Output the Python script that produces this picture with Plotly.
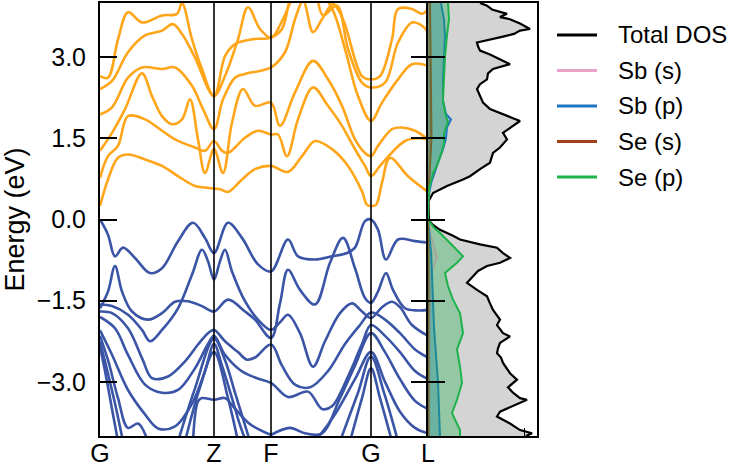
import plotly.graph_objects as go

# ---------------- high-symmetry path ----------------
hs_k = [0, 114, 171, 271, 328]
hs_labels = ["G", "Z", "F", "G", "L"]
y_ticks = [-3.0, -1.5, 0.0, 1.5, 3.0]

# ---------------- conduction bands (k, E in eV) ----------------
c1 = [(0, 0.25), (8, 0.74), (18, 1.14), (28, 1.20), (45, 1.11), (62, 0.99), (78, 0.80), (95, 0.62),
      (105, 0.59), (114, 0.57), (120, 0.56), (128, 0.51), (142, 0.74), (155, 0.93), (171, 0.99),
      (188, 0.88), (202, 1.17), (215, 1.45), (232, 1.30), (248, 0.99), (262, 0.52), (267, 0.27),
      (271, 0.25), (276, 0.27), (282, 0.68), (290, 1.14), (308, 0.80), (328, 0.51)]
c2 = [(0, 0.77), (8, 1.17), (18, 1.36), (28, 1.91), (45, 1.85), (62, 1.64), (75, 1.48), (95, 1.33),
      (105, 1.27), (114, 1.45), (122, 1.27), (128, 1.23), (145, 1.51), (158, 1.64), (171, 1.57),
      (178, 1.57), (187, 1.17), (198, 1.85), (213, 2.44), (228, 2.10), (242, 1.73), (254, 1.33),
      (265, 0.99), (271, 0.80), (280, 0.99), (290, 1.20), (305, 1.45), (318, 1.50), (328, 1.48)]
c3 = [(0, 1.27), (12, 1.60), (25, 2.04), (42, 2.70), (52, 2.28), (62, 1.91), (72, 1.76), (82, 1.85),
      (90, 2.22), (98, 1.48), (105, 0.86), (114, 1.30), (123, 0.86), (132, 1.79), (143, 2.41),
      (155, 2.10), (171, 2.16), (180, 1.73), (195, 2.35), (213, 2.93), (228, 2.59), (242, 2.10),
      (255, 1.48), (265, 1.23), (271, 1.17), (278, 1.36), (292, 1.67), (302, 1.70), (315, 1.64),
      (328, 1.48)]
c4 = [(0, 1.94), (12, 2.07), (28, 2.62), (42, 2.81), (62, 2.78), (75, 2.81), (92, 2.47), (103, 2.04),
      (114, 1.67), (123, 2.22), (135, 2.62), (145, 2.69), (171, 2.81), (185, 3.09), (195, 3.70),
      (203, 4.07), (215, 4.30), (232, 3.90), (245, 3.15), (258, 2.28), (271, 1.82), (282, 2.16),
      (298, 2.59), (312, 2.87), (328, 2.84)]
c5 = [(0, 2.41), (12, 2.56), (28, 3.09), (45, 3.40), (62, 3.49), (73, 3.61), (83, 3.40), (95, 2.99),
      (114, 2.28), (125, 3.02), (135, 3.24), (152, 3.33), (171, 3.36), (182, 3.52), (190, 4.07),
      (200, 4.50), (215, 4.20), (223, 3.77), (237, 3.95), (248, 3.15), (262, 2.53), (271, 2.44),
      (285, 2.53), (298, 3.27), (312, 3.64), (322, 3.58), (328, 3.46)]
c6 = [(0, 2.65), (8, 2.62), (18, 3.33), (28, 3.83), (42, 3.64), (62, 3.77), (77, 3.80), (82, 4.00),
      (92, 3.33), (102, 2.78), (114, 2.28), (125, 2.65), (138, 3.33), (148, 3.92), (160, 3.52),
      (171, 3.36), (183, 3.70), (193, 4.07), (202, 4.10), (213, 3.46), (222, 3.70), (233, 3.98),
      (243, 3.70), (262, 2.65), (271, 2.59), (280, 2.65), (292, 3.33), (298, 3.89), (312, 3.89),
      (322, 3.80), (328, 3.89)]

# ---------------- valence bands (k, E in eV) ----------------
v1 = [(0, 0.0), (8, -0.28), (15, -0.68), (23, -0.52), (35, -0.71), (50, -0.99), (62, -0.90),
      (78, -0.40), (93, -0.06), (105, -0.34), (114, -0.62), (128, -0.06), (142, -0.34), (158, -0.83),
      (171, -0.96), (188, -0.37), (198, -0.68), (215, -0.74), (232, -0.68), (247, -0.62), (255, -0.52),
      (265, -0.03), (271, 0.0), (278, -0.19), (286, -0.74), (298, -0.37), (315, -0.40), (328, -0.43)]
v2 = [(0, -1.64), (8, -1.33), (15, -0.86), (22, -1.33), (32, -1.70), (48, -1.85), (62, -1.73),
      (75, -1.52), (88, -1.51), (102, -1.60), (114, -1.70), (128, -1.48), (145, -1.70), (155, -1.85),
      (171, -2.19), (180, -1.55), (188, -0.93), (200, -1.30), (215, -1.57), (230, -0.80), (243, -0.34),
      (255, -0.90), (265, -1.45), (271, -1.54), (278, -1.33), (286, -0.99), (293, -1.30), (305, -1.64),
      (318, -1.68), (328, -1.67)]
v3 = [(0, -1.57), (12, -1.60), (28, -1.76), (42, -2.04), (50, -2.25), (62, -2.04), (78, -1.64),
      (92, -1.02), (102, -0.56), (108, -0.77), (114, -1.11), (120, -0.77), (125, -0.56), (132, -0.96),
      (145, -1.51), (158, -1.85), (171, -2.04), (180, -1.90), (188, -1.76), (200, -2.10), (213, -2.72),
      (225, -2.25), (240, -1.73), (252, -1.55), (262, -1.70), (271, -1.82), (282, -1.62), (292, -1.52),
      (300, -1.62), (312, -1.95), (328, -2.15)]
v4 = [(0, -1.70), (12, -1.73), (28, -2.01), (42, -2.56), (52, -2.93), (68, -2.90), (85, -2.62),
      (98, -2.31), (108, -2.10), (114, -2.04), (125, -2.25), (138, -2.45), (147, -2.59), (155, -2.55),
      (171, -2.31), (182, -2.70), (195, -3.05), (210, -3.10), (228, -2.80), (245, -2.30), (260, -1.95),
      (271, -1.72), (285, -1.85), (300, -2.10), (315, -2.40), (328, -2.55)]
v5 = [(0, -1.80), (15, -2.01), (28, -2.50), (45, -3.05), (62, -3.20), (78, -3.15), (95, -2.75),
      (108, -2.30), (114, -2.15), (125, -2.50), (140, -2.78), (155, -2.92), (171, -3.02), (188, -3.28),
      (208, -3.18), (222, -3.50), (232, -3.45), (248, -2.90), (262, -2.30), (271, -1.95), (285, -2.15),
      (300, -2.45), (315, -2.80), (328, -2.95)]
v6 = [(0, -2.05), (12, -2.50), (28, -3.15), (45, -3.60), (58, -3.86), (75, -3.82), (92, -3.40),
      (105, -2.80), (114, -2.30), (122, -2.70), (132, -3.30), (140, -3.80), (146, -4.10)]
v6b = [(171, -3.98), (190, -3.85), (205, -3.95), (222, -3.95), (240, -3.30), (255, -2.70), (271, -2.10),
       (285, -2.45), (300, -2.95), (315, -3.35), (328, -3.50)]
v7 = [(0, -2.15), (8, -2.60), (18, -3.30), (28, -3.85), (38, -3.77), (48, -4.10)]
v8 = [(0, -2.25), (6, -2.70), (15, -3.40), (23, -4.10)]
v9 = [(0, -2.35), (5, -2.80), (12, -3.50), (18, -4.10)]
v10 = [(78, -4.10), (95, -3.12), (114, -2.20), (125, -2.60), (135, -3.20), (145, -3.80), (150, -4.10)]
v11 = [(85, -4.10), (100, -3.10), (114, -2.45), (128, -3.30), (138, -4.10)]
v12 = [(93, -4.10), (98, -3.36), (102, -3.30), (114, -3.33), (125, -3.30), (133, -3.45), (150, -3.78),
       (171, -3.98)]
v13 = [(215, -4.10), (235, -3.60), (255, -2.95), (271, -2.45), (285, -3.00), (300, -3.55), (315, -3.85),
       (328, -3.95)]
v14 = [(240, -4.10), (258, -3.20), (271, -2.53), (284, -3.20), (298, -4.10)]
v15 = [(250, -4.10), (262, -3.30), (271, -2.75), (280, -3.30), (292, -4.10)]

conduction = [c1, c2, c3, c4, c5, c6]
valence = [v1, v2, v3, v4, v5, v6, v6b, v7, v8, v9, v10, v11, v12, v13, v14, v15]

# ---------------- DOS (E in eV, states) ----------------
dos_total = [(4.00, 5.2), (3.95, 5.9), (3.88, 6.4), (3.80, 7.9), (3.74, 7.2), (3.70, 8.2), (3.62, 9.2),
             (3.52, 10.2), (3.49, 9.2), (3.43, 8.6), (3.38, 7.5), (3.33, 6.4), (3.27, 4.9), (3.20, 5.0),
             (3.12, 5.2), (3.05, 6.2), (2.96, 7.2), (2.87, 8.2), (2.78, 6.5), (2.70, 6.0), (2.59, 5.9),
             (2.50, 5.2), (2.41, 4.9), (2.28, 5.2), (2.16, 5.5), (2.04, 6.2), (1.94, 7.5), (1.82, 9.2),
             (1.73, 8.5), (1.60, 7.5), (1.48, 7.9), (1.33, 7.2), (1.23, 6.5), (1.05, 6.2), (0.93, 5.2),
             (0.80, 4.2), (0.74, 3.5), (0.62, 1.9), (0.49, 0.5), (0.35, 0.1), (0.20, 0.02), (0.00, 0.0),
             (-0.10, 0.5), (-0.19, 1.2), (-0.30, 2.5), (-0.37, 3.2), (-0.46, 5.2), (-0.52, 6.9),
             (-0.62, 7.5), (-0.71, 8.2), (-0.80, 7.2), (-0.86, 5.9), (-0.95, 5.0), (-1.05, 4.5),
             (-1.17, 3.9), (-1.30, 4.9), (-1.42, 5.9), (-1.55, 6.2), (-1.67, 6.5), (-1.85, 7.2),
             (-1.95, 6.9), (-2.10, 7.5), (-2.16, 8.2), (-2.28, 7.2), (-2.38, 7.0), (-2.47, 6.9),
             (-2.55, 7.3), (-2.65, 7.5), (-2.84, 8.2), (-2.96, 8.9), (-3.10, 8.0), (-3.20, 8.5),
             (-3.30, 9.2), (-3.33, 9.9), (-3.46, 8.2), (-3.55, 7.2), (-3.64, 6.9), (-3.77, 8.2),
             (-3.89, 9.2), (-3.95, 10.4), (-4.00, 9.8)]
dos_sb_s = [(4.0, 0.15), (3.0, 0.18), (2.0, 0.2), (1.0, 0.15), (0.5, 0.05), (0.0, 0.0), (-0.3, 0.3),
            (-0.5, 0.6), (-0.7, 0.9), (-0.85, 0.6), (-1.0, 0.3), (-1.5, 0.2), (-2.5, 0.15), (-4.0, 0.1)]
dos_sb_p = [(4.0, 1.3), (3.7, 1.6), (3.4, 1.7), (3.0, 1.6), (2.6, 1.5), (2.2, 1.5), (1.95, 1.8),
            (1.85, 2.3), (1.7, 1.9), (1.5, 1.8), (1.3, 1.5), (1.1, 1.1), (0.9, 0.7), (0.7, 0.35),
            (0.5, 0.12), (0.3, 0.03), (0.0, 0.0), (-0.3, 0.15), (-0.6, 0.3), (-1.0, 0.4), (-1.5, 0.5),
            (-2.0, 0.6), (-2.5, 0.8), (-3.0, 1.0), (-3.5, 1.1), (-4.0, 1.2)]
dos_se_s = [(4.0, 0.2), (3.0, 0.25), (2.0, 0.3), (1.5, 0.35), (1.0, 0.2), (0.5, 0.05), (0.0, 0.0),
            (-0.5, 0.05), (-4.0, 0.05)]
dos_se_p = [(4.0, 2.0), (3.7, 2.1), (3.4, 1.9), (3.0, 1.7), (2.6, 1.6), (2.2, 1.5), (1.9, 1.8),
            (1.8, 2.0), (1.6, 1.6), (1.4, 1.6), (1.2, 1.3), (1.0, 0.9), (0.85, 0.5), (0.6, 0.15),
            (0.3, 0.03), (0.0, 0.0), (-0.15, 0.6), (-0.25, 1.2), (-0.49, 2.5), (-0.68, 3.5), (-0.8, 2.9),
            (-0.99, 1.7), (-1.23, 2.0), (-1.48, 2.5), (-1.73, 3.2), (-2.1, 3.5), (-2.4, 2.9),
            (-2.72, 3.2), (-3.02, 3.4), (-3.33, 2.9), (-3.58, 2.4), (-3.89, 3.2), (-4.0, 3.2)]

ORANGE = "#FFA51A"
BLUE = "#3A54A6"
FONT = "Liberation Sans"
FS = 25

fig = go.Figure()

for band in conduction:
    fig.add_trace(go.Scatter(x=[p[0] for p in band], y=[p[1] for p in band], mode="lines",
                             line=dict(color=ORANGE, width=2.6, shape="spline", smoothing=1.0),
                             showlegend=False, hoverinfo="skip", xaxis="x", yaxis="y"))
for band in valence:
    fig.add_trace(go.Scatter(x=[p[0] for p in band], y=[p[1] for p in band], mode="lines",
                             line=dict(color=BLUE, width=2.6, shape="spline", smoothing=1.0),
                             showlegend=False, hoverinfo="skip", xaxis="x", yaxis="y"))

dos_specs = [
    ("Total DOS", dos_total, "black", 2.2, "rgba(212,212,212,1)"),
    ("Sb (s)", dos_sb_s, "#E9A3C9", 2.0, "rgba(233,163,201,0.35)"),
    ("Sb (p)", dos_sb_p, "#1F74C4", 2.0, "rgba(31,116,196,0.35)"),
    ("Se (s)", dos_se_s, "#A0401C", 2.0, "rgba(160,64,28,0.35)"),
    ("Se (p)", dos_se_p, "#1DB34A", 2.0, "rgba(29,179,74,0.35)"),
]
for name, data, col, w, fillc in dos_specs:
    fig.add_trace(go.Scatter(x=[p[1] for p in data], y=[p[0] for p in data], mode="lines", name=name,
                             line=dict(color=col, width=w), fill="tozerox", fillcolor=fillc,
                             showlegend=False, hoverinfo="skip", xaxis="x2", yaxis="y2"))

# vertical separators at interior high-symmetry points
for k in hs_k[1:-1]:
    fig.add_shape(type="line", xref="x", yref="y domain", x0=k, x1=k, y0=0, y1=1,
                  line=dict(color="black", width=1.6))

# legend drawn as line samples + text (paper coordinates)
W, H = 730, 469
ML, MR, MT, MB = 100, 193, 3, 33
pw, ph = W - ML - MR, H - MT - MB
def px_x(x):
    return (x - ML) / pw
def px_y(y):
    return 1 - (y - MT) / ph
legend_rows = [35, 70.5, 106, 141.5, 177]
for (name, data, col, w, fillc), yy in zip(dos_specs, legend_rows):
    fig.add_shape(type="line", xref="paper", yref="paper", x0=px_x(557), x1=px_x(597),
                  y0=px_y(yy), y1=px_y(yy), line=dict(color=col, width=3))
    fig.add_annotation(xref="paper", yref="paper", x=px_x(616), y=px_y(yy), text=name,
                       showarrow=False, xanchor="left", yanchor="middle",
                       font=dict(size=24, family=FONT, color="black"))

split = 328 / 437
fig.update_layout(
    width=W, height=H,
    margin=dict(l=ML, r=MR, t=MT, b=MB, autoexpand=False),
    paper_bgcolor="white", plot_bgcolor="white",
    font=dict(family=FONT, size=FS, color="black"),
    showlegend=False,
    xaxis=dict(domain=[0, split], range=[0, 328], tickvals=hs_k, ticktext=hs_labels, ticks="",
               ticklen=0, showline=True, mirror=True, linecolor="black", linewidth=2, showgrid=False,
               zeroline=False, tickfont=dict(size=FS), ticklabelstandoff=-6),
    yaxis=dict(range=[-4, 4], tickvals=y_ticks, tickformat=".1f", ticks="inside", ticklen=17,
               tickwidth=1.5, tickcolor="black", showline=True, mirror="ticks", linecolor="black",
               linewidth=2, showgrid=False, zeroline=False, tickfont=dict(size=FS),
               ticklabelstandoff=7,
               title=dict(text="Energy (eV)", font=dict(size=27), standoff=4)),
    xaxis2=dict(domain=[split, 1], range=[0, 10.9], anchor="y2", showticklabels=False,
                tickvals=[9.6], ticks="inside", ticklen=8, tickcolor="black", showline=True,
                mirror=True, linecolor="black", linewidth=2, showgrid=False, zeroline=False),
    yaxis2=dict(range=[-4, 4], anchor="x2", tickvals=y_ticks, showticklabels=False, ticks="inside",
                ticklen=17, tickwidth=1.5, tickcolor="black", showline=True, mirror=True,
                linecolor="black", linewidth=2, showgrid=False, zeroline=False),
)

fig.write_html("out.html", config={"displayModeBar": False},
               post_script="document.body.style.margin='0';document.body.style.overflow='hidden';")
